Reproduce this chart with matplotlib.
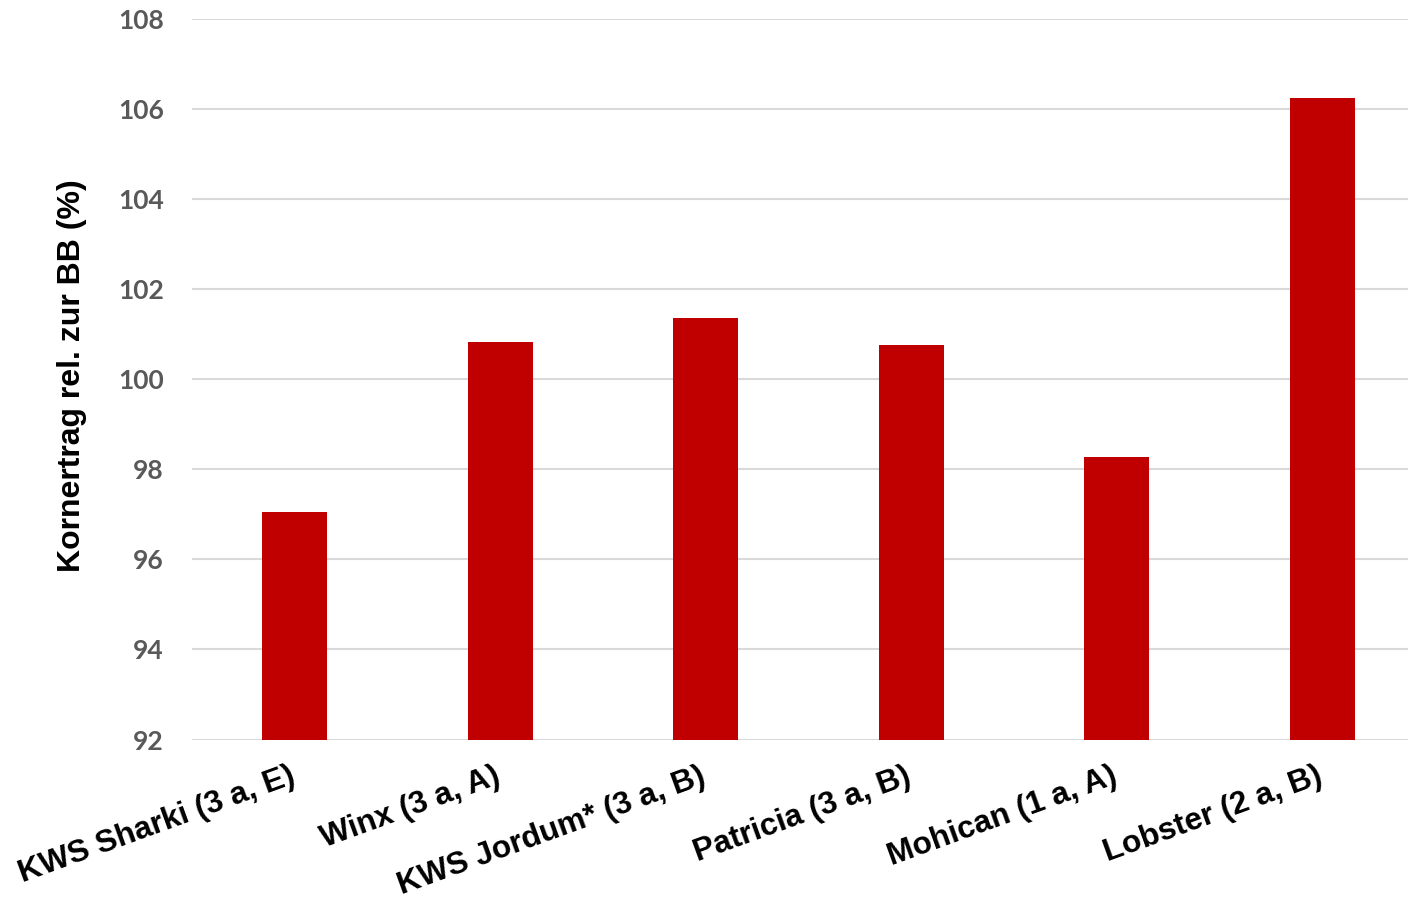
import matplotlib
matplotlib.use("Agg")
import matplotlib.pyplot as plt

categories = ["KWS Sharki (3 a, E)", "Winx (3 a, A)", "KWS Jordum* (3 a, B)",
              "Patricia (3 a, B)", "Mohican (1 a, A)", "Lobster (2 a, B)"]
values = [97.05, 100.82, 101.37, 100.75, 98.27, 106.25]
yticks = [92, 94, 96, 98, 100, 102, 104, 106, 108]
ylabel = "Kornertrag rel. zur BB (%)"

W, H = 1408, 899
fig = plt.figure(figsize=(W / 100, H / 100), dpi=100)
left = 191.7 / W
right = 1425.0 / W
bottom = (H - 739.5) / H
top = (H - 19.0) / H
ax = fig.add_axes([left, bottom, right - left, top - bottom])

x = list(range(len(categories)))
ax.bar(x, [v - yticks[0] for v in values], bottom=yticks[0], width=0.316,
       color="#C00000", zorder=3)

ax.set_xlim(-0.5, len(categories) - 0.5)
ax.set_ylim(yticks[0], yticks[-1])
ax.set_yticks(yticks)
ax.set_yticklabels([str(t) for t in yticks], fontfamily="Lato",
                   fontweight="bold", fontsize=19, color="#595959")
ax.tick_params(axis="y", length=0, pad=20)
ax.grid(axis="y", color="#D9D9D9", linewidth=1.5, zorder=0)
ax.set_axisbelow(True)
for s in ax.spines.values():
    s.set_visible(False)

ax.set_xticks(x)
ax.set_xticklabels([])
ax.tick_params(axis="x", length=0)
for xi, lab in zip(x, categories):
    ax.annotate(lab, xy=(xi, yticks[0]), xycoords="data",
                xytext=(-6, -22), textcoords="offset pixels",
                rotation=20, rotation_mode="anchor", ha="right", va="top",
                fontfamily="Liberation Sans", fontweight="bold", fontsize=22.8,
                color="black", annotation_clip=False)

fig.text(72 / W, 1 - 376 / H, ylabel, rotation=90, ha="center", va="center",
         fontfamily="Liberation Sans", fontweight="bold", fontsize=23,
         color="black")

fig.savefig("out.png", dpi=100, facecolor="white")
